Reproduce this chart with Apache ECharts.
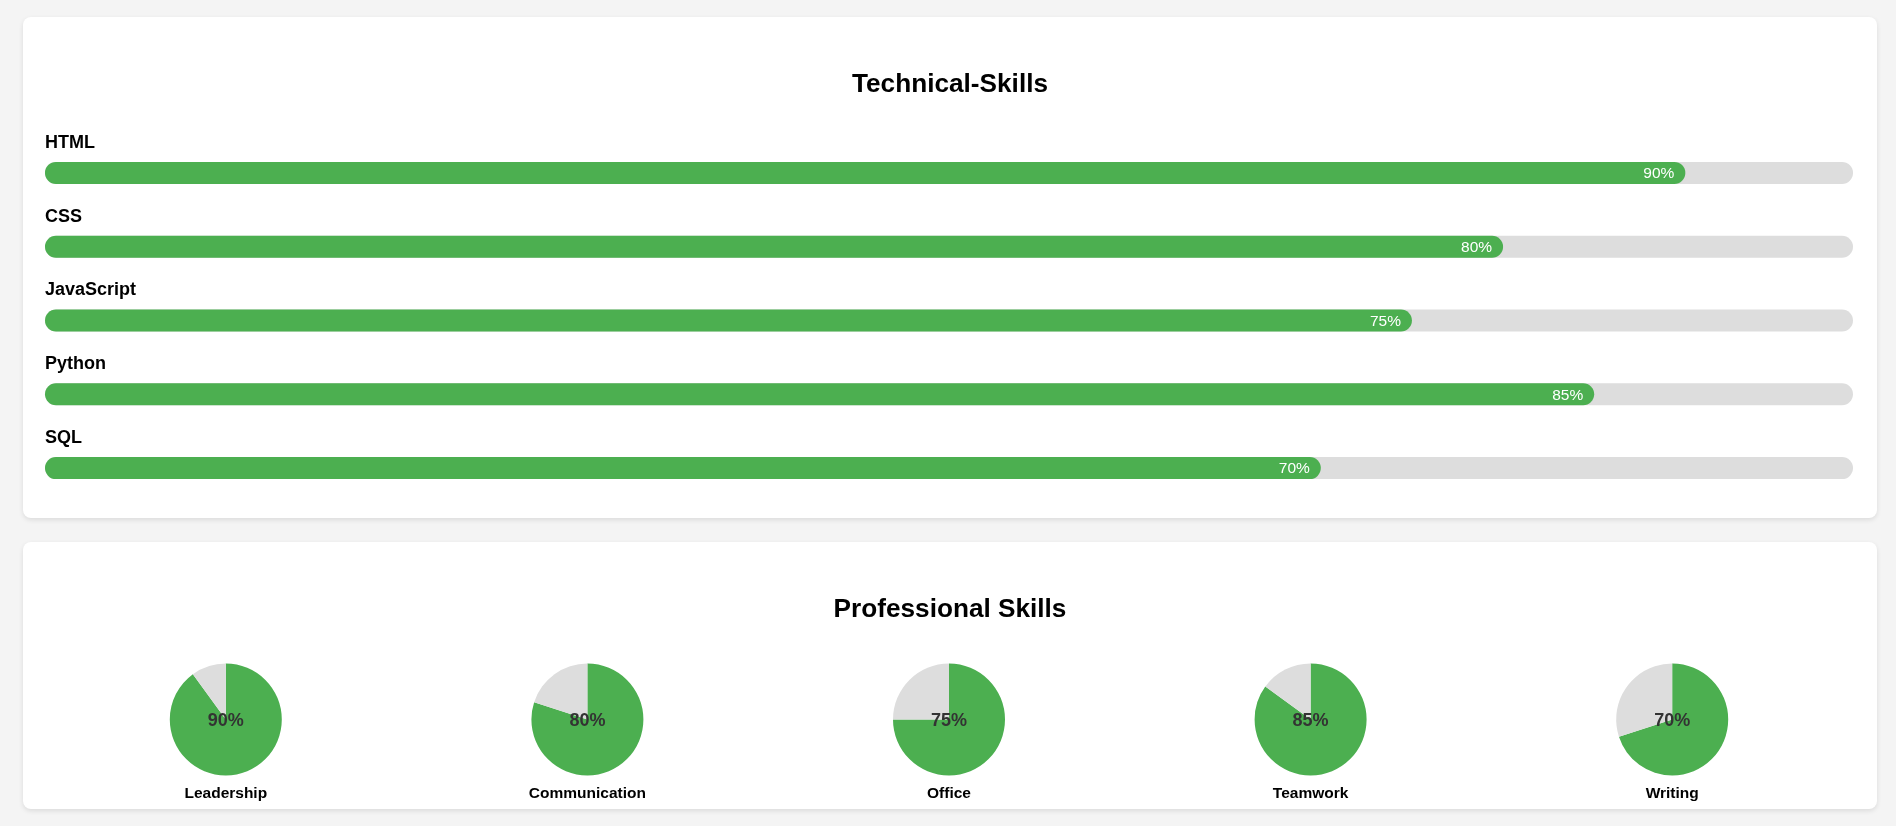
<!DOCTYPE html>
<html>
<head>
<meta charset="utf-8">
<script src="https://cdn.jsdelivr.net/npm/echarts@6/dist/echarts.min.js"></script>
<style>
  html, body { margin: 0; padding: 0; background: #f4f4f4; width: 1896px; height: 826px; overflow: hidden; }
  .card { position: absolute; left: 23px; width: 1854px; background: #fff; border-radius: 8px; box-shadow: 0 2px 5px rgba(0,0,0,0.1); }
  #card1 { top: 17px; height: 501px; }
  #card2 { top: 542px; height: 267px; }
  .chart { width: 100%; height: 100%; }
</style>
</head>
<body>
<div class="card" id="card1"><div class="chart" id="tech"></div></div>
<div class="card" id="card2"><div class="chart" id="pro"></div></div>
<script>
const techTitle = 'Technical-Skills';
const techSkills = ['HTML', 'CSS', 'JavaScript', 'Python', 'SQL'];
const techValues = [90, 80, 75, 85, 70];

const proTitle = 'Professional Skills';
const proSkills = ['Leadership', 'Communication', 'Office', 'Teamwork', 'Writing'];
const proValues = [90, 80, 75, 85, 70];

const FONT = 'Arial, "Liberation Sans", sans-serif';
const GREEN = '#4caf50';
const GREY = '#dddddd';

// Technical skills: horizontal progress bars
const tech = echarts.init(document.getElementById('tech'), null, { renderer: 'canvas' });
tech.setOption({
  animation: false,
  title: {
    text: techTitle, left: 'center', top: 50,
    textStyle: { fontFamily: FONT, fontSize: 26.2, fontWeight: 'bold', color: '#000' }
  },
  grid: { left: 22, width: 1808, top: 119, height: 369, containLabel: false },
  xAxis: { type: 'value', min: 0, max: 99.2, show: false },
  yAxis: {
    type: 'category', data: techSkills, inverse: true,
    axisLine: { show: false }, axisTick: { show: false }, splitLine: { show: false },
    axisLabel: {
      inside: true, margin: 0, verticalAlign: 'bottom', padding: [0, 0, 21, 0],
      fontFamily: FONT, fontSize: 18, fontWeight: 'bold', color: '#000'
    }
  },
  series: [{
    type: 'bar', data: techValues, barWidth: 22,
    itemStyle: { color: GREEN, borderRadius: 11 },
    showBackground: true,
    backgroundStyle: { color: GREY, borderRadius: 11 },
    label: {
      show: true, position: 'insideRight', distance: 11, offset: [0, 1],
      formatter: '{c}%', color: '#fff', fontFamily: FONT, fontSize: 15.5
    }
  }]
});

// Professional skills: pies
const pro = echarts.init(document.getElementById('pro'), null, { renderer: 'canvas' });
const innerLeft = 22, innerWidth = 1808;
const slot = innerWidth / proSkills.length;
const centers = proSkills.map((_, i) => innerLeft + slot * (i + 0.5));
const titles = [{
  text: proTitle, left: 'center', top: 50,
  textStyle: { fontFamily: FONT, fontSize: 26.2, fontWeight: 'bold', color: '#000' }
}];
proSkills.forEach((name, i) => {
  titles.push({
    text: name, left: centers[i], top: 244, textAlign: 'center', padding: 0,
    textStyle: { fontFamily: FONT, fontSize: 15.5, fontWeight: 'bold', color: '#000' }
  });
});
pro.setOption({
  animation: false,
  title: titles,
  series: proSkills.map((name, i) => ({
    type: 'pie', radius: 56, center: [centers[i], 177.5],
    startAngle: 90, clockwise: true, silent: true,
    labelLine: { show: false },
    data: [
      { value: proValues[i], name: name, itemStyle: { color: GREEN },
        label: { show: true, position: 'center', formatter: proValues[i] + '%', offset: [0, 2],
                 fontFamily: FONT, fontSize: 18, fontWeight: 'bold', color: '#333' } },
      { value: 100 - proValues[i], name: 'rest', itemStyle: { color: GREY },
        label: { show: false } }
    ]
  }))
});
</script>
</body>
</html>
